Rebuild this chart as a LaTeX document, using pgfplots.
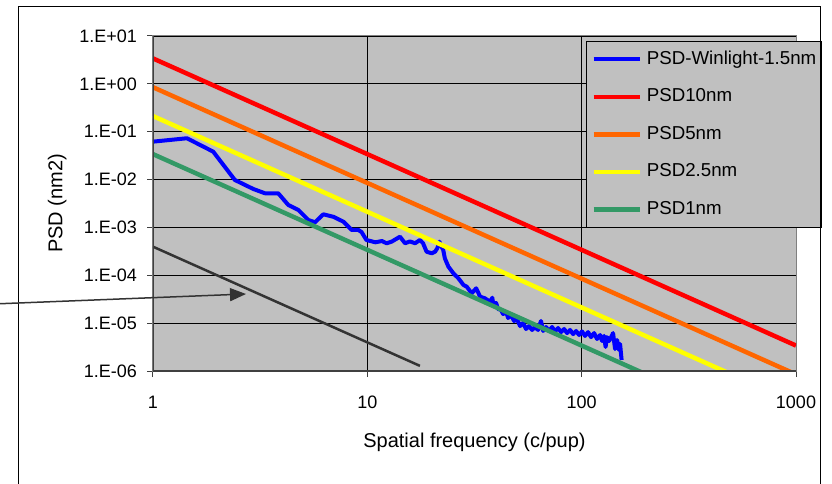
\documentclass[border=0pt]{standalone}
\usepackage{pgfplots}
\pgfplotsset{compat=1.18}
\usepackage{fontspec}
\setmainfont{Liberation Sans}
\usetikzlibrary{arrows.meta}
\definecolor{plotgray}{HTML}{C0C0C0}
\definecolor{psdblue}{HTML}{0000FF}
\definecolor{psdred}{HTML}{FF0000}
\definecolor{psdorange}{HTML}{FF6600}
\definecolor{psdyellow}{HTML}{FFFF00}
\definecolor{psdgreen}{HTML}{339966}
\definecolor{darkline}{HTML}{333333}
\begin{document}
\begin{tikzpicture}[x=1pt,y=1pt]
\useasboundingbox (-153,-113) rectangle (679,371);
\begin{loglogaxis}[
  at={(0pt,0pt)}, anchor=south west,
  scale only axis, width=643pt, height=335pt,
  xmin=1, xmax=1000, ymin=1e-6, ymax=10,
  xtick={1,10,100,1000}, xticklabels={1,10,100,1000},
  ytick={1e-6,1e-5,1e-4,1e-3,1e-2,1e-1,1,10},
  yticklabels={1.E-06,1.E-05,1.E-04,1.E-03,1.E-02,1.E-01,1.E+00,1.E+01},
  minor tick style={draw=none},
  xtick pos=bottom, ytick pos=left,
  tick align=outside, major tick length=6pt,
  tick style={black!75, line width=1pt},
  xmajorgrids, ymajorgrids,
  major grid style={black, line width=0.8pt},
  axis background/.style={fill=plotgray},
  axis line style={draw=black!50, line width=1pt},
  ticklabel style={font=\fontsize{18}{21}\selectfont, inner sep=0pt},
  xticklabel style={anchor=center, yshift=-25pt},
  yticklabel style={anchor=east, xshift=-10pt},
  xlabel={Spatial frequency (c/pup)},
  ylabel={PSD (nm2)},
  label style={font=\fontsize{20}{23}\selectfont},
  xlabel style={at={(axis description cs:0.5,-0.212)}, anchor=center},
  ylabel style={at={(axis description cs:-0.149,0.5)}, anchor=center, rotate=0},
  legend cell align=left,
  legend image code/.code={\draw[#1] (0pt,0pt) -- (46pt,0pt);},
  legend style={at={(axis description cs:0.6734,0.985)}, anchor=north west,
    fill=plotgray, draw=black, line width=0.8pt,
    font=\fontsize{18.7}{21}\selectfont,
    inner xsep=5pt, inner ysep=9pt, row sep=19.5pt, column sep=5pt,
    nodes={inner sep=0pt, text height=14pt, text depth=4pt}},
]
\addplot[psdblue, line width=4pt, line join=round] coordinates {
(1,0.062) (1.44,0.073) (1.91,0.0383) (2.41,0.0098) (2.94,0.00635)
(3.33,0.00517) (3.84,0.00517) (4.28,0.00294) (4.77,0.00231) (5.31,0.00143)
(5.70,0.00128) (6.23,0.00188) (6.94,0.00167) (7.73,0.00132) (8.45,0.000885)
(9.08,0.000885) (9.4,0.0008) (9.9,0.000547) (10.9,0.000489) (11.7,0.00052)
(12.3,0.000466) (13.0,0.000506) (14.2,0.00064) (15.0,0.000467) (15.8,0.00051)
(16.7,0.000467) (17.6,0.000547) (18.2,0.000467) (18.9,0.000311) (20.0,0.000288)
(20.7,0.000311) (21.2,0.000366) (21.7,0.000503) (22.2,0.000396) (22.6,0.000338)
(23.0,0.000226) (23.9,0.000151) (25.2,0.00011) (26.6,8.65e-5) (28.1,6.27e-5)
(29.1,5.78e-5) (30.7,4.2e-5) (32.2,5.35e-5) (33.6,3.57e-5) (35.4,3.3e-5)
(37.4,2.8e-5) (38.3,3.4e-5) (38.7,2.48e-5)
(39.9,2.64e-5) (40.7,1.98e-5) (42.1,1.88e-5) (43.0,1.55e-5) (44.4,1.71e-5)
(45.4,1.28e-5) (46.8,1.48e-5) (48.4,1.11e-5) (49.9,1.22e-5) (51.6,8.7e-6)
(53.3,1.01e-5) (55.0,7.55e-6) (56.8,8.7e-6) (58.7,7.2e-6) (60.6,8.3e-6)
(62.6,7.2e-6) (64.6,1.11e-5) (66.1,6.86e-6) (68.2,8.3e-6) (70.4,6.86e-6)
(72.8,8.3e-6) (75.1,6.7e-6) (77.6,7.9e-6) (80.1,6.5e-6) (82.8,7.55e-6)
(85.5,6.2e-6) (88.3,7.2e-6) (91.2,5.9e-6) (94.2,6.86e-6) (97.3,5.65e-6)
(100.4,6.7e-6) (103.7,5.4e-6) (107.1,6.5e-6) (110.6,5.1e-6) (114.3,6.2e-6)
(118.0,4.67e-6) (121.9,5.65e-6) (124.5,4.24e-6) (127.2,5.4e-6) (129.3,3.18e-6)
(131.4,5.1e-6) (134.3,4.24e-6) (137.2,5.1e-6) (140.1,6.2e-6) (143.2,2.88e-6)
(146.3,4.45e-6) (149.4,2.75e-6) (151.1,3.67e-6) (153.6,1.7e-6)
};
\addlegendentry{PSD-Winlight-1.5nm}
\addplot[psdred, line width=4.5pt] coordinates {(1,3.4) (1000,3.4e-6)};
\addlegendentry{PSD10nm}
\addplot[psdorange, line width=4.5pt] coordinates {(1,0.85) (1000,8.5e-7)};
\addlegendentry{PSD5nm}
\addplot[psdyellow, line width=4.5pt] coordinates {(1,0.2125) (1000,2.125e-7)};
\addlegendentry{PSD2.5nm}
\addplot[psdgreen, line width=4.5pt] coordinates {(1,0.034) (1000,3.4e-8)};
\addlegendentry{PSD1nm}
\addplot[darkline, line width=2.5pt, forget plot] coordinates {(1,3.96e-4) (17.6,1.28e-6)};
\draw[black!75, line width=1.8pt] (rel axis cs:0,1) -- (rel axis cs:0,0) -- (rel axis cs:1,0);
\end{loglogaxis}
\draw[black, line width=1pt] (-134,-130) -- (-134,364) -- (667,364) -- (667,-130);
\draw[darkline, line width=1.5pt, -{Triangle[length=16pt,width=13pt]}] (-160,67) -- (93,77);
\end{tikzpicture}
\end{document}
